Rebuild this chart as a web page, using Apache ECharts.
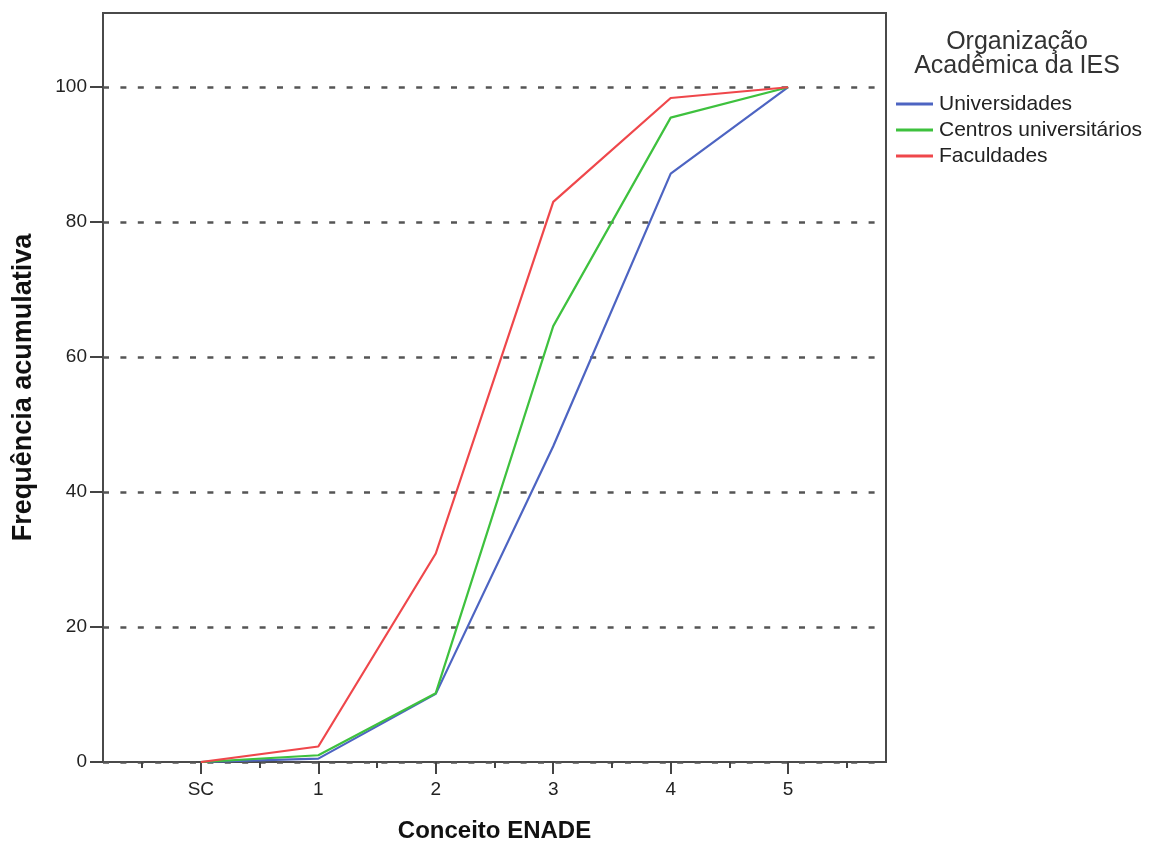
<!DOCTYPE html>
<html>
<head>
<meta charset="utf-8">
<script src="https://cdn.jsdelivr.net/npm/echarts@6/dist/echarts.min.js"></script>
<style>html,body{margin:0;padding:0;background:#fff}#c{width:1150px;height:848px}</style>
</head>
<body>
<div id="c"></div>
<script>
var categories = ['SC', '1', '2', '3', '4', '5'];
var xPositions = [0, 1, 2, 3, 4, 5];
var minorTickPositions = [-0.5, 0.5, 1.5, 2.5, 3.5, 4.5, 5.5];
var yTicks = [0, 20, 40, 60, 80, 100];
var universidades = [0, 0.5, 10.1, 46.8, 87.2, 100];
var centros = [0, 1.0, 10.2, 64.6, 95.5, 100];
var faculdades = [0, 2.3, 30.9, 83.0, 98.4, 100];
var seriesNames = ['Universidades', 'Centros universitários', 'Faculdades'];
var legendTitle = 'Organização\nAcadêmica da IES';
var xName = 'Conceito ENADE';
var yName = 'Frequência acumulativa';

var FONT = 'Liberation Sans, Arial, Helvetica, sans-serif';
var colors = ['#4d64c2', '#3ec13e', '#ef474b'];
function pairs(vals){ return vals.map(function(v,i){ return [xPositions[i], v]; }); }

var chart = echarts.init(document.getElementById('c'), null, {renderer: 'canvas'});
chart.setOption({
  animation: false,
  backgroundColor: '#fff',
  color: colors,
  grid: {left: 103, right: 264, top: 13, bottom: 85, show: true, borderColor: '#4a4a4a', borderWidth: 2, backgroundColor: 'transparent'},
  legend: {
    orient: 'vertical', left: 891, top: 88,
    icon: 'rect', itemWidth: 37, itemHeight: 3, itemGap: 4,
    textStyle: {fontFamily: FONT, fontSize: 21, color: '#222', lineHeight: 22, padding: [0,0,0,1]},
    data: seriesNames
  },
  graphic: [{
    type: 'text', x: 1017, y: 30,
    style: {text: legendTitle, fontFamily: FONT, fontSize: 25, lineHeight: 24, fill: '#333', textAlign: 'center', textVerticalAlign: 'top'}
  }],
  xAxis: [{
    type: 'value', min: -0.833, max: 5.833, position: 'bottom',
    name: xName, nameLocation: 'middle', nameGap: 57,
    nameTextStyle: {fontFamily: FONT, fontSize: 24, fontWeight: 'bold', color: '#111'},
    axisLine: {show: false, onZero: false},
    axisTick: {show: true, customValues: xPositions, length: 12, lineStyle: {color: '#444', width: 2}},
    axisLabel: {customValues: xPositions, fontFamily: FONT, fontSize: 19, color: '#222', margin: 18,
      formatter: function(v){ var i = Math.round(v); return categories[i] !== undefined ? categories[i] : ''; }},
    splitLine: {show: false}
  }, {
    type: 'value', min: -0.833, max: 5.833, position: 'bottom',
    axisLine: {show: false, onZero: false},
    axisTick: {show: true, customValues: minorTickPositions, length: 6, lineStyle: {color: '#444', width: 2}},
    axisLabel: {show: false},
    splitLine: {show: false}
  }],
  yAxis: {
    type: 'value', min: 0, max: 111, interval: 20, position: 'left',
    name: yName, nameLocation: 'middle', nameGap: 66,
    nameTextStyle: {fontFamily: FONT, fontSize: 27, fontWeight: 'bold', color: '#111'},
    axisLine: {show: false, onZero: false},
    axisTick: {show: true, customValues: yTicks, length: 13, lineStyle: {color: '#444', width: 2}},
    axisLabel: {customValues: yTicks, fontFamily: FONT, fontSize: 19, color: '#222', margin: 16, padding: [4, 0, 0, 0]},
    splitLine: {show: true, lineStyle: {color: '#555', width: 2.5, type: [6, 11.4]}}
  },
  series: [
    {name: seriesNames[0], type: 'line', data: pairs(universidades), symbol: 'none', lineStyle: {width: 2.2, color: colors[0]}, z: 3},
    {name: seriesNames[1], type: 'line', data: pairs(centros), symbol: 'none', lineStyle: {width: 2.2, color: colors[1]}, z: 4},
    {name: seriesNames[2], type: 'line', data: pairs(faculdades), symbol: 'none', lineStyle: {width: 2.2, color: colors[2]}, z: 5}
  ]
});
</script>
</body>
</html>
